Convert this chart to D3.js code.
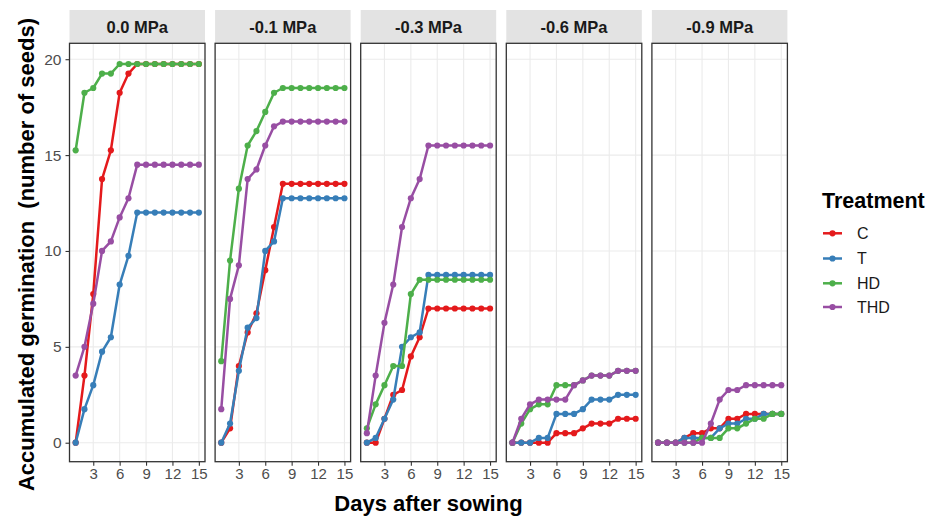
<!DOCTYPE html>
<html>
<head>
<meta charset="utf-8">
<script src="https://cdn.jsdelivr.net/npm/d3@7/dist/d3.min.js"></script>
<style>
  html, body { margin: 0; padding: 0; background: #fff; }
  svg { display: block; font-family: "Liberation Sans", Arial, sans-serif; }
</style>
</head>
<body>
<svg id="chart" width="935" height="518"></svg>
<script>
// Accumulated germination per day, one facet per osmotic potential
const days = [1, 2, 3, 4, 5, 6, 7, 8, 9, 10, 11, 12, 13, 14, 15];
const potentials = ["0.0 MPa", "-0.1 MPa", "-0.3 MPa", "-0.6 MPa", "-0.9 MPa"];
const treatments = ["C", "T", "HD", "THD"];
const colours = ["#E41A1C", "#377EB8", "#4DAF4A", "#984EA3"];
const xTicks = [3, 6, 9, 12, 15];
const yTicks = [0, 5, 10, 15, 20];

// 0.0 MPa
const C_0  = [0, 3.5, 7.75, 13.75, 15.25, 18.25, 19.25, 19.75, 19.75, 19.75, 19.75, 19.75, 19.75, 19.75, 19.75];
const T_0  = [0, 1.75, 3, 4.75, 5.5, 8.25, 9.75, 12, 12, 12, 12, 12, 12, 12, 12];
const HD_0 = [15.25, 18.25, 18.5, 19.25, 19.25, 19.75, 19.75, 19.75, 19.75, 19.75, 19.75, 19.75, 19.75, 19.75, 19.75];
const THD_0 = [3.5, 5, 7.25, 10, 10.5, 11.75, 12.75, 14.5, 14.5, 14.5, 14.5, 14.5, 14.5, 14.5, 14.5];
// -0.1 MPa
const C_1  = [0, 0.75, 4, 5.75, 6.75, 9, 11.25, 13.5, 13.5, 13.5, 13.5, 13.5, 13.5, 13.5, 13.5];
const T_1  = [0, 1, 3.75, 6, 6.5, 10, 10.5, 12.75, 12.75, 12.75, 12.75, 12.75, 12.75, 12.75, 12.75];
const HD_1 = [4.25, 9.5, 13.25, 15.5, 16.25, 17.25, 18.25, 18.5, 18.5, 18.5, 18.5, 18.5, 18.5, 18.5, 18.5];
const THD_1 = [1.75, 7.5, 9.25, 13.75, 14.25, 15.5, 16.5, 16.75, 16.75, 16.75, 16.75, 16.75, 16.75, 16.75, 16.75];
// -0.3 MPa
const C_3  = [0, 0, 1.25, 2.5, 2.75, 4.5, 5.5, 7, 7, 7, 7, 7, 7, 7, 7];
const T_3  = [0, 0.25, 1.25, 2.25, 5, 5.5, 5.75, 8.75, 8.75, 8.75, 8.75, 8.75, 8.75, 8.75, 8.75];
const HD_3 = [0.75, 2, 3, 4, 4, 7.75, 8.5, 8.5, 8.5, 8.5, 8.5, 8.5, 8.5, 8.5, 8.5];
const THD_3 = [0.5, 3.5, 6.25, 8.25, 11.25, 12.75, 13.75, 15.5, 15.5, 15.5, 15.5, 15.5, 15.5, 15.5, 15.5];
// -0.6 MPa
const C_6  = [0, 0, 0, 0, 0, 0.5, 0.5, 0.5, 0.75, 1, 1, 1, 1.25, 1.25, 1.25];
const T_6  = [0, 0, 0, 0.25, 0.25, 1.5, 1.5, 1.5, 1.75, 2.25, 2.25, 2.25, 2.5, 2.5, 2.5];
const HD_6 = [0, 1, 1.75, 2, 2, 3, 3, 3, 3.25, 3.5, 3.5, 3.5, 3.75, 3.75, 3.75];
const THD_6 = [0, 1.25, 2, 2.25, 2.25, 2.25, 2.25, 3, 3.25, 3.5, 3.5, 3.5, 3.75, 3.75, 3.75];
// -0.9 MPa
const C_9  = [0, 0, 0, 0.25, 0.5, 0.5, 0.75, 0.75, 1.25, 1.25, 1.5, 1.5, 1.5, 1.5, 1.5];
const T_9  = [0, 0, 0, 0.25, 0.25, 0.25, 0.25, 0.75, 1, 1, 1.25, 1.25, 1.5, 1.5, 1.5];
const HD_9 = [0, 0, 0, 0, 0, 0.25, 0.25, 0.25, 0.75, 0.75, 1, 1.25, 1.25, 1.5, 1.5];
const THD_9 = [0, 0, 0, 0, 0, 0, 1, 2.25, 2.75, 2.75, 3, 3, 3, 3, 3];

const panelSeries = [
  [C_0, T_0, HD_0, THD_0],
  [C_1, T_1, HD_1, THD_1],
  [C_3, T_3, HD_3, THD_3],
  [C_6, T_6, HD_6, THD_6],
  [C_9, T_9, HD_9, THD_9]
];

const svg = d3.select("#chart");

// facet layout
const panelLeft0 = 69.5, panelW = 135.5, panelGap = 10.1;
const panelTop = 43.3, panelBottom = 461.7;
const stripTop = 10;

const y = d3.scaleLinear().domain([-0.99, 20.83]).range([panelBottom, panelTop]);

potentials.forEach((label, p) => {
  const x0 = panelLeft0 + p * (panelW + panelGap);
  const x = d3.scaleLinear().domain([0.3, 15.7]).range([x0, x0 + panelW]);
  const g = svg.append("g");

  // strip
  g.append("rect")
    .attr("x", x0).attr("y", stripTop)
    .attr("width", panelW).attr("height", panelTop - stripTop)
    .attr("fill", "#e3e3e3");
  g.append("text")
    .attr("x", x0 + panelW / 2).attr("y", (stripTop + panelTop) / 2)
    .attr("dy", "0.36em")
    .attr("text-anchor", "middle")
    .attr("font-size", 16.5).attr("font-weight", "bold")
    .attr("fill", "#1a1a1a")
    .text(label);

  // panel background and grid
  g.append("rect")
    .attr("x", x0).attr("y", panelTop)
    .attr("width", panelW).attr("height", panelBottom - panelTop)
    .attr("fill", "#fff");
  g.selectAll(".gy").data(yTicks).join("line")
    .attr("x1", x0).attr("x2", x0 + panelW)
    .attr("y1", d => y(d)).attr("y2", d => y(d))
    .attr("stroke", "#ebebeb").attr("stroke-width", 1.1);
  g.selectAll(".gx").data(xTicks).join("line")
    .attr("x1", d => x(d)).attr("x2", d => x(d))
    .attr("y1", panelTop).attr("y2", panelBottom)
    .attr("stroke", "#ebebeb").attr("stroke-width", 1.1);

  // series: lines then points, in treatment order
  const line = d3.line().x((d, i) => x(days[i])).y(d => y(d));
  panelSeries[p].forEach((vals, s) => {
    g.append("path")
      .attr("d", line(vals))
      .attr("fill", "none")
      .attr("stroke", colours[s])
      .attr("stroke-width", 2.5)
      .attr("stroke-linejoin", "round");
    g.selectAll(null).data(vals).join("circle")
      .attr("cx", (d, i) => x(days[i]))
      .attr("cy", d => y(d))
      .attr("r", 3.1)
      .attr("fill", colours[s]);
  });

  // panel border
  g.append("rect")
    .attr("x", x0).attr("y", panelTop)
    .attr("width", panelW).attr("height", panelBottom - panelTop)
    .attr("fill", "none").attr("stroke", "#333").attr("stroke-width", 1.3);

  // x axis
  const xAxis = d3.axisBottom(x).tickValues(xTicks).tickSize(4).tickPadding(3);
  const ax = g.append("g").attr("transform", `translate(0,${panelBottom})`).call(xAxis);
  ax.select(".domain").remove();
  ax.selectAll(".tick line").attr("stroke", "#333").attr("stroke-width", 1.1);
  ax.selectAll(".tick text")
    .attr("font-size", 15).attr("fill", "#4d4d4d")
    .attr("font-family", "Liberation Sans, Arial, sans-serif");

  // y axis on the first facet only
  if (p === 0) {
    const yAxis = d3.axisLeft(y).tickValues(yTicks).tickSize(4).tickPadding(4);
    const ay = g.append("g").attr("transform", `translate(${x0},0)`).call(yAxis);
    ay.select(".domain").remove();
    ay.selectAll(".tick line").attr("stroke", "#333").attr("stroke-width", 1.1);
    ay.selectAll(".tick text")
      .attr("font-size", 15.5).attr("fill", "#4d4d4d")
      .attr("font-family", "Liberation Sans, Arial, sans-serif");
  }
});

// axis titles
svg.append("text")
  .attr("x", (panelLeft0 + panelLeft0 + 5 * panelW + 4 * panelGap) / 2)
  .attr("y", 511)
  .attr("text-anchor", "middle")
  .attr("font-size", 22).attr("font-weight", "bold").attr("fill", "#000")
  .text("Days after sowing");

svg.append("text")
  .attr("transform", `translate(34,${(panelTop + panelBottom) / 2 + 2}) rotate(-90)`)
  .attr("text-anchor", "middle")
  .style("white-space", "pre")
  .attr("font-size", 22).attr("font-weight", "bold").attr("fill", "#000")
  .text("Accumulated germination  (number of seeds)");

// legend
const legend = svg.append("g").attr("transform", "translate(822,0)");
legend.append("text")
  .attr("x", 0).attr("y", 208)
  .attr("font-size", 21.5).attr("font-weight", "bold").attr("fill", "#000")
  .text("Treatment");
const keyY = [233.3, 258.5, 283.3, 307];
treatments.forEach((t, i) => {
  const k = legend.append("g").attr("transform", `translate(0,${keyY[i]})`);
  k.append("line").attr("x1", 1).attr("x2", 20).attr("y1", 0).attr("y2", 0)
    .attr("stroke", colours[i]).attr("stroke-width", 2.5);
  k.append("circle").attr("cx", 10.5).attr("cy", 0).attr("r", 3.1).attr("fill", colours[i]);
  k.append("text").attr("x", 35).attr("y", 0).attr("dy", "0.36em")
    .attr("font-size", 16).attr("fill", "#1a1a1a").text(t);
});
</script>
</body>
</html>
